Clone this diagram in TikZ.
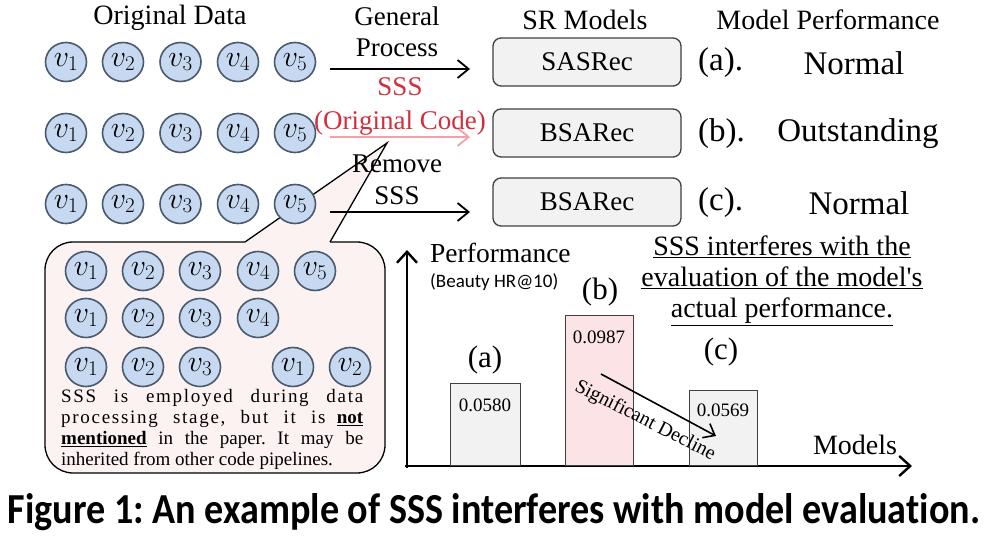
\RequirePackage{fix-cm}
\documentclass[tikz,border=0pt]{standalone}
\usepackage{fontspec}
\setmainfont{Liberation Serif}
\newfontfamily\calib{Carlito}
\usetikzlibrary{arrows.meta,shapes.geometric}
\definecolor{cfill}{HTML}{C6D9F1}
\definecolor{cdraw}{HTML}{4A5A6E}
\definecolor{boxfill}{HTML}{F2F2F2}
\definecolor{boxdraw}{HTML}{404040}
\definecolor{pinkfill}{HTML}{FCE4E6}
\definecolor{callfill}{HTML}{FDF2F2}
\definecolor{sssred}{HTML}{D22F3E}
\definecolor{pinkarrow}{HTML}{F4A0A8}
\frenchspacing
\begin{document}
\begin{tikzpicture}[x=1pt,y=-1pt,
  item/.style={ellipse, draw=cdraw, fill=cfill, line width=1.6pt, minimum width=41pt, minimum height=39pt, inner sep=0pt, font=\fontsize{30}{32}\selectfont},
  srbox/.style={rectangle, rounded corners=8pt, draw=boxdraw, fill=boxfill, line width=1.3pt, minimum width=188pt, minimum height=48pt, font=\fontsize{27}{30}\selectfont},
  lbl/.style={font=\fontsize{28}{31}\selectfont, align=center, inner sep=0pt},
  big/.style={font=\fontsize{33}{36}\selectfont, inner sep=0pt},
  arr/.style={-{Straight Barb[length=11pt,width=18pt]}, line width=1.8pt},
  axisln/.style={-{Straight Barb[length=11pt,width=20pt]}, line width=2.4pt},
  bar/.style={rectangle, draw=boxdraw, line width=1.3pt, inner sep=0pt, anchor=south west},
  val/.style={font=\fontsize{19}{22}\selectfont, inner sep=0pt}
]
\useasboundingbox (0,0) rectangle (989,540);
\fill[white] (0,0) rectangle (989,540);

% callout
\draw[fill=callfill, line width=1.3pt, rounded corners=28pt] (45,242) rectangle (385,473);
\fill[callfill] (387,143) -- (245,242) -- (245,245) -- (330,245) -- (330,242) -- cycle;
\draw[line width=1.3pt] (245,242) -- (387,143) -- (330,242);

% headings
\node[lbl] (hdata) at (170,18) {Original Data};
\node[lbl] (hsr) at (585,20) {SR Models};
\node[lbl] (hperf) at (828,20) {Model Performance};

% sequences
\foreach \x [count=\i] in {66,123,180.5,238,295} {
  \node[item] (a\i) at (\x,62) {$v_{\i}$};
  \node[item] (b\i) at (\x,133) {$v_{\i}$};
  \node[item] (c\i) at (\x,204) {$v_{\i}$};
}
\foreach \x [count=\i] in {86,143,200,258,315} {
  \node[item] (d\i) at (\x,271) {$v_{\i}$};
}
\foreach \x [count=\i] in {86,143,200,258} {
  \node[item] (e\i) at (\x,318) {$v_{\i}$};
}
\foreach \x [count=\i] in {86,143,200} {
  \node[item] (f\i) at (\x,367) {$v_{\i}$};
}
\node[item] (g1) at (293,367) {$v_{1}$};
\node[item] (g2) at (350,367) {$v_{2}$};

% models
\node[srbox] (m1) at (587,62) {SASRec};
\node[srbox] (m2) at (587,133) {BSARec};
\node[srbox] (m3) at (587,202) {BSARec};

% arrows
\coordinate (s1) at (330,69); \coordinate (t1) at (470,69);
\coordinate (s2) at (330,137); \coordinate (t2) at (470,137);
\coordinate (s3) at (330,212); \coordinate (t3) at (470,212);
\draw[arr] (s1) -- (t1);
\draw[arr, draw=pinkarrow] (s2) -- (t2);
\draw[arr] (s3) -- (t3);
\node[lbl, font=\fontsize{27}{31}\selectfont] (l1) at (397,32) {General\\Process};
\node[lbl, text=sssred, font=\fontsize{27}{34}\selectfont] (l2) at (400,106) {SSS\\(Original Code)};
\node[lbl, font=\fontsize{27}{32}\selectfont] (l3) at (397,180) {Remove\\SSS};

% performance column
\node[big, anchor=west] (pa) at (698,63) {(a).};
\node[big] (na) at (854,63) {Normal};
\node[big, anchor=west] (pb) at (698,134) {(b).};
\node[big] (nb) at (858,134) {Outstanding};
\node[big, anchor=west] (pc) at (698,203) {(c).};
\node[big] (nc) at (859,203) {Normal};

% callout text
\node[anchor=north west, inner sep=0pt, align=left, font=\fontsize{19}{21}\selectfont] (ctext) at (61,389) {%
\makebox[302pt][s]{\addfontfeature{LetterSpace=9}SSS is employed during data}\\
\makebox[302pt][s]{{\addfontfeature{LetterSpace=9}processing stage, but it is} \underline{\textbf{not}}}\\
\makebox[302pt][s]{\underline{\textbf{mentioned}} in the paper. It may be}\\
inherited from other code pipelines.};

% chart
\coordinate (o) at (407,466);
\coordinate (ytop) at (407,250);
\coordinate (xend) at (912,466);
\draw[axisln] (407,468) -- (ytop);
\draw[axisln] (405,466) -- (xend);
\node[bar, fill=boxfill, minimum width=70pt, minimum height=82pt] (bara) at (450,466) {};
\node[bar, fill=pinkfill, minimum width=68pt, minimum height=150pt] (barb) at (565,466) {};
\node[bar, fill=boxfill, minimum width=68pt, minimum height=75pt] (barc) at (689,466) {};
\node[val] (va) at (485,405) {0.0580};
\node[val] (vb) at (599,337) {0.0987};
\node[val] (vc) at (723,410) {0.0569};
\node[big, font=\fontsize{31}{34}\selectfont] (la) at (485,360) {(a)};
\node[big, font=\fontsize{31}{34}\selectfont] (lb) at (600,292) {(b)};
\node[big, font=\fontsize{31}{34}\selectfont] (lc) at (721,352) {(c)};
\node[anchor=west, inner sep=0pt, font=\fontsize{27.5}{30}\selectfont] (perf) at (430,253) {Performance};
\node[anchor=west, inner sep=0pt, font=\calib\fontsize{19}{21}\selectfont] (beauty) at (430,282) {(Beauty HR@10)};
\node[align=center, inner sep=0pt, font=\fontsize{28}{31}\selectfont] (title) at (782,281) {\underline{SSS interferes with the}\\\underline{evaluation of the model{\addfontfeature{Ligatures=TeXOff}'}s}\\\underline{actual performance.}};
\node[inner sep=0pt, font=\fontsize{28}{30}\selectfont] (models) at (855,445) {Models};
\coordinate (d1) at (601,374);
\coordinate (d2) at (716,436);
\draw[-{Straight Barb[length=10pt,width=16pt]}, line width=1.6pt] (d1) -- (d2);
\node[rotate=-27, inner sep=0pt, font=\fontsize{20}{22}\selectfont] (decl) at (645,421) {Significant Decline};

% caption
\node[inner sep=0pt] (cap) at (494,512) {\resizebox{972pt}{30pt}{\calib\bfseries\addfontfeature{Ligatures=NoCommon} Figure 1: An example of SSS interferes with model evaluation.}};
\end{tikzpicture}
\end{document}
